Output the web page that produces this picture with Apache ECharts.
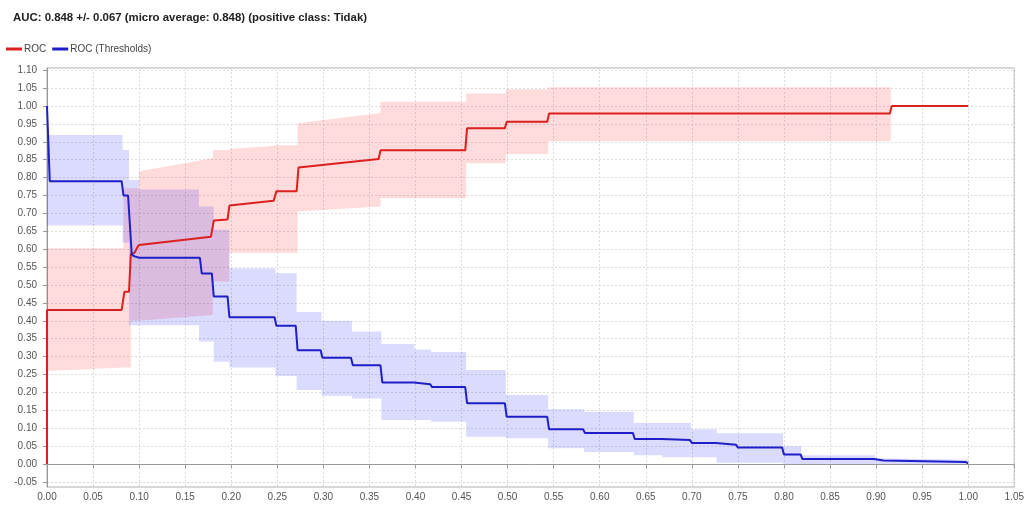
<!DOCTYPE html>
<html>
<head>
<meta charset="utf-8">
<script src="https://cdn.jsdelivr.net/npm/echarts@6/dist/echarts.min.js"></script>
<style>html,body{margin:0;padding:0;background:#fff;}#c{width:1027px;height:507px;}</style>
</head>
<body>
<div id="c"></div>
<script>
// ROC curve (FPR -> TPR)
var rocX = [0, 0, 0.081, 0.084, 0.089, 0.091, 0.095, 0.098, 0.100, 0.178, 0.181, 0.196, 0.198, 0.246, 0.249, 0.271, 0.273, 0.360, 0.362, 0.454, 0.456, 0.497, 0.499, 0.543, 0.545, 0.915, 0.917, 1.0];
var rocY = [0, 0.43, 0.43, 0.481, 0.481, 0.586, 0.59, 0.605, 0.612, 0.635, 0.68, 0.683, 0.722, 0.735, 0.762, 0.762, 0.828, 0.852, 0.876, 0.876, 0.938, 0.938, 0.956, 0.956, 0.979, 0.979, 1.0, 1.0];
// ROC band (mean +/- std)
var rocBandX  = [0, 0.083, 0.083, 0.091, 0.091, 0.0996, 0.0996, 0.18, 0.18, 0.198, 0.198, 0.248, 0.248, 0.272, 0.272, 0.362, 0.362, 0.455, 0.455, 0.498, 0.498, 0.544, 0.544, 0.916, 0.916, 1.0];
var rocBandLo = [0.26, 0.27, 0.27, 0.27, 0.40, 0.40, 0.40, 0.416, 0.51, 0.51, 0.59, 0.59, 0.59, 0.59, 0.705, 0.719, 0.742, 0.742, 0.84, 0.84, 0.866, 0.866, 0.902, 0.902, 1.0, 1.0];
var rocBandHi = [0.603, 0.603, 0.77, 0.77, 0.77, 0.77, 0.818, 0.854, 0.877, 0.877, 0.88, 0.889, 0.89, 0.89, 0.952, 0.98, 1.012, 1.012, 1.035, 1.035, 1.047, 1.047, 1.052, 1.052, 1.0, 1.0];

// ROC (Thresholds)
var thrX = [0, 0.003, 0.081, 0.083, 0.088, 0.092, 0.095, 0.100, 0.166, 0.168, 0.179, 0.181, 0.196, 0.198, 0.247, 0.249, 0.270, 0.272, 0.297, 0.299, 0.330, 0.332, 0.362, 0.364, 0.398, 0.400, 0.416, 0.418, 0.454, 0.456, 0.497, 0.499, 0.543, 0.545, 0.582, 0.584, 0.636, 0.638, 0.667, 0.669, 0.698, 0.700, 0.726, 0.728, 0.748, 0.750, 0.798, 0.800, 0.818, 0.820, 0.898, 0.900, 0.908, 0.910, 0.997, 1.0];
var thrY = [1.0, 0.79, 0.79, 0.75, 0.75, 0.585, 0.58, 0.576, 0.576, 0.532, 0.532, 0.468, 0.468, 0.41, 0.41, 0.386, 0.386, 0.318, 0.318, 0.297, 0.297, 0.276, 0.276, 0.228, 0.228, 0.223, 0.223, 0.215, 0.215, 0.170, 0.170, 0.132, 0.132, 0.097, 0.097, 0.087, 0.087, 0.070, 0.070, 0.067, 0.067, 0.059, 0.059, 0.054, 0.054, 0.046, 0.046, 0.027, 0.027, 0.014, 0.014, 0.010, 0.010, 0.006, 0.006, 0.002];
var thrBandX  = [0, 0.082, 0.082, 0.089, 0.089, 0.0996, 0.0996, 0.165, 0.165, 0.181, 0.181, 0.198, 0.198, 0.248, 0.248, 0.271, 0.271, 0.298, 0.298, 0.331, 0.331, 0.363, 0.363, 0.399, 0.399, 0.417, 0.417, 0.455, 0.455, 0.498, 0.498, 0.544, 0.544, 0.583, 0.583, 0.637, 0.637, 0.668, 0.668, 0.699, 0.699, 0.727, 0.727, 0.799, 0.799, 0.819, 0.819, 0.899, 0.899, 1.0];
var thrBandLo = [0.666, 0.666, 0.618, 0.618, 0.388, 0.388, 0.388, 0.388, 0.342, 0.342, 0.286, 0.286, 0.27, 0.27, 0.246, 0.246, 0.207, 0.207, 0.191, 0.191, 0.183, 0.183, 0.123, 0.123, 0.123, 0.123, 0.118, 0.118, 0.076, 0.076, 0.072, 0.072, 0.044, 0.044, 0.034, 0.034, 0.025, 0.025, 0.019, 0.019, 0.019, 0.019, 0.004, 0.004, 0.0, 0.0, 0.0, 0.0, 0.0, 0.0];
var thrBandHi = [0.919, 0.919, 0.877, 0.877, 0.793, 0.793, 0.767, 0.767, 0.719, 0.719, 0.654, 0.654, 0.547, 0.547, 0.533, 0.533, 0.425, 0.425, 0.40, 0.40, 0.37, 0.37, 0.335, 0.335, 0.320, 0.320, 0.313, 0.313, 0.263, 0.263, 0.193, 0.193, 0.153, 0.153, 0.146, 0.146, 0.115, 0.115, 0.115, 0.115, 0.097, 0.097, 0.086, 0.086, 0.05, 0.05, 0.025, 0.025, 0.016, 0.012];

var titleText = 'AUC: 0.848 +/- 0.067 (micro average: 0.848) (positive class: Tidak)';
var seriesNames = ['ROC', 'ROC (Thresholds)'];

function pairs(xs, ys) { return xs.map(function (x, i) { return [x, ys[i]]; }); }
function triples(xs, lo, hi) { return xs.map(function (x, i) { return [x, lo[i], hi[i]]; }); }

// band drawn as one polygon: upper edge forward, lower edge backward
function bandRenderer(fill) {
  return function (params, api) {
    if (params.dataIndex !== 0) return null;
    var n = params.dataInsideLength;
    var data = params.context.band;
    var pts = [];
    for (var i = 0; i < data.length; i++) pts.push(api.coord([data[i][0], data[i][2]]));
    for (var j = data.length - 1; j >= 0; j--) pts.push(api.coord([data[j][0], data[j][1]]));
    return { type: 'polygon', shape: { points: pts }, style: { fill: fill }, silent: true };
  };
}
function makeBand(name, xs, lo, hi, fill) {
  var band = triples(xs, lo, hi);
  return {
    name: name, type: 'custom', silent: true, z: 1, clip: true,
    encode: { x: 0, y: [1, 2] },
    data: band,
    renderItem: function (params, api) { params.context.band = band; return bandRenderer(fill)(params, api); }
  };
}

var RED = '#dc1f1f', BLUE = '#1f1fc8';
var FONT = 'Liberation Sans, Arial, sans-serif';
var chart = echarts.init(document.getElementById('c'), null, { renderer: 'canvas' });
var labelStyle = { color: '#555', fontSize: 10, fontFamily: FONT };
var splitStyle = { show: true, lineStyle: { color: '#dcdcdc', type: [2, 2], width: 1 } };

chart.setOption({
  animation: false,
  backgroundColor: '#fff',
  title: {
    text: titleText, left: 13, top: 12, padding: 0,
    textStyle: { fontSize: 11.4, fontWeight: 'bold', color: '#222', fontFamily: FONT }
  },
  legend: {
    data: seriesNames, left: 6, top: 44, padding: 0,
    icon: 'rect', itemWidth: 16, itemHeight: 3, itemGap: 6,
    textStyle: { fontSize: 10, color: '#444', fontFamily: FONT, padding: [0, 0, 0, -3] }
  },
  grid: { left: 47, right: 12, top: 68, bottom: 20, show: true, borderColor: '#aaa', borderWidth: 1, containLabel: false },
  xAxis: {
    type: 'value', min: 0, max: 1.05, interval: 0.05,
    axisLine: { show: true, lineStyle: { color: '#999' } },
    axisTick: { show: true, length: 4, lineStyle: { color: '#999' } },
    axisLabel: Object.assign({ margin: 5, formatter: function (v) { return v.toFixed(2); } }, labelStyle),
    splitLine: splitStyle
  },
  yAxis: {
    type: 'value', min: -0.064, max: 1.106, minInterval: 0.05, maxInterval: 0.05, splitNumber: 23,
    axisLine: { show: true, lineStyle: { color: '#999' } },
    axisTick: { show: true, length: 4, lineStyle: { color: '#999' } },
    axisLabel: Object.assign({ margin: 10, showMinLabel: false, showMaxLabel: false, formatter: function (v) { return v.toFixed(2); } }, labelStyle),
    splitLine: splitStyle
  },
  series: [
    makeBand('rocBand', rocBandX, rocBandLo, rocBandHi, 'rgba(255,0,0,0.14)'),
    makeBand('thrBand', thrBandX, thrBandLo, thrBandHi, 'rgba(0,0,255,0.14)'),
    { name: seriesNames[0], type: 'line', symbol: 'none', color: RED, lineStyle: { color: RED, width: 2 },
      data: pairs(rocX, rocY), z: 3 },
    { name: seriesNames[1], type: 'line', symbol: 'none', color: BLUE, lineStyle: { color: BLUE, width: 2 },
      data: pairs(thrX, thrY), z: 3 }
  ]
});
</script>
</body>
</html>
